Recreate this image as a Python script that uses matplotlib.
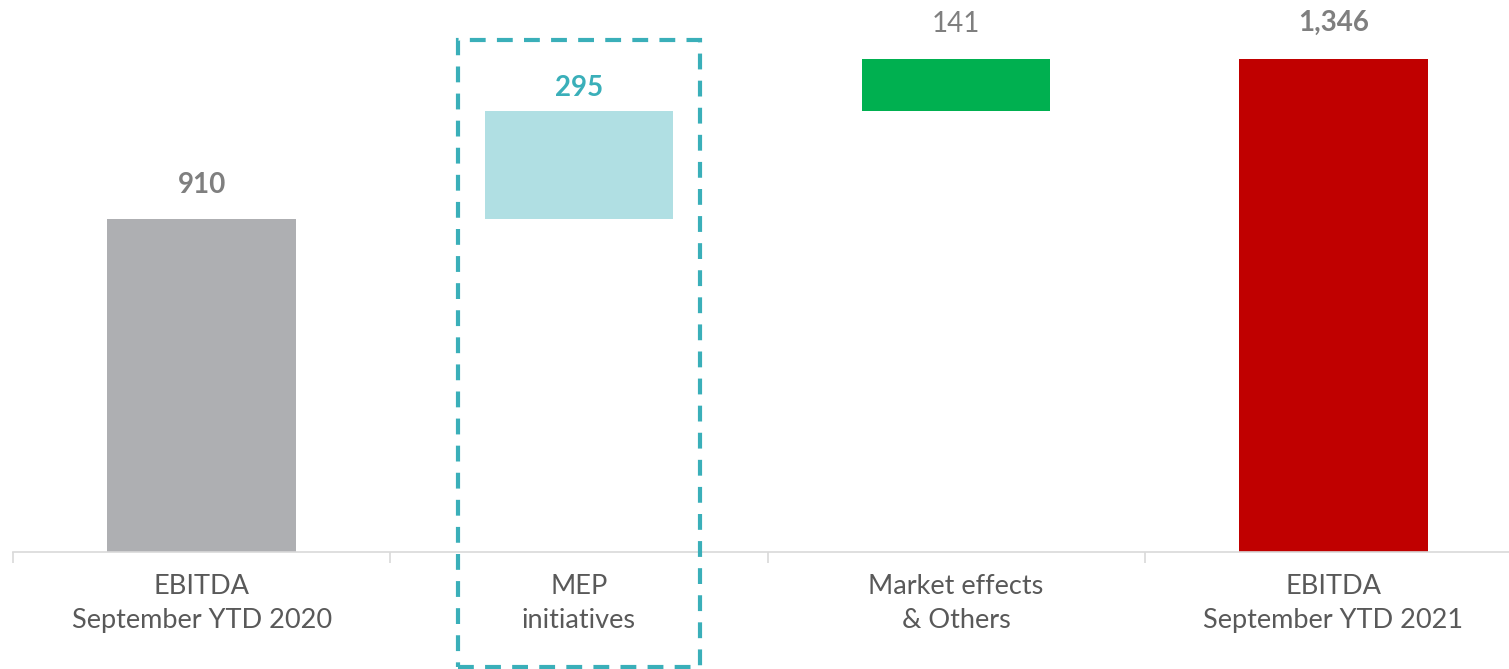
import numpy as np
import matplotlib.pyplot as plt
from matplotlib.patches import Rectangle

# Datos del gráfico (millones)
categorias = ["EBITDA\nSeptember YTD 2020", "MEP\ninitiatives",
              "Market effects\n& Others", "EBITDA\nSeptember YTD 2021"]
valores = [910, 295, 141, 1346]
etiquetas = ["910", "295", "141", "1,346"]
colores = ["#AEAFB2", "#B0DFE3", "#00B050", "#C00000"]
colores_txt = ["#7F7F7F", "#3AAFB9", "#7F7F7F", "#7F7F7F"]
negritas = [True, True, False, True]

# Bases de la cascada
bases = [0, valores[0], valores[0] + valores[1], 0]

plt.rcParams['font.family'] = ['Lato', 'DejaVu Sans']

fig = plt.figure(figsize=(15.09, 6.69), dpi=100)
ax = fig.add_axes([13 / 1509, 117 / 669, 1509 / 1509, 552 / 669])

x = np.arange(len(categorias))
ax.bar(x, valores, bottom=bases, width=0.5, color=colores, zorder=2)

# separación de cada etiqueta (puntos)
separacion = [15, 7, 16, 17]
for i in range(len(x)):
    ax.annotate(etiquetas[i], (x[i], bases[i] + valores[i]),
                xytext=(0, separacion[i]), textcoords="offset points",
                ha="center", va="bottom", fontsize=20,
                color=colores_txt[i],
                fontweight="bold" if negritas[i] else "normal")

ax.set_xlim(-0.5, 3.5)
ax.set_ylim(0, 1508)

# Eje X
for s in ["top", "right", "left"]:
    ax.spines[s].set_visible(False)
ax.spines["bottom"].set_color("#D9D9D9")
ax.spines["bottom"].set_linewidth(1.2)
ax.set_yticks([])
ax.set_xticks([-0.5, 0.5, 1.5, 2.5, 3.5])
ax.set_xticklabels([])
ax.tick_params(axis="x", length=8, color="#D9D9D9", width=1.2)
ax.set_xticks(x, minor=True)
ax.set_xticklabels(categorias, minor=True, fontsize=19.5, color="#595959",
                   linespacing=1.45)
ax.tick_params(axis="x", which="minor", length=0, pad=16)

# Recuadro punteado sobre MEP
caja = Rectangle((1 - 0.32, -314), 0.64, 1713, fill=False,
                 edgecolor="#3AAFB9", linewidth=3, linestyle=(0, (3.8, 2.7)),
                 clip_on=False, zorder=3)
ax.add_patch(caja)

fig.savefig("out.png", dpi=100)
